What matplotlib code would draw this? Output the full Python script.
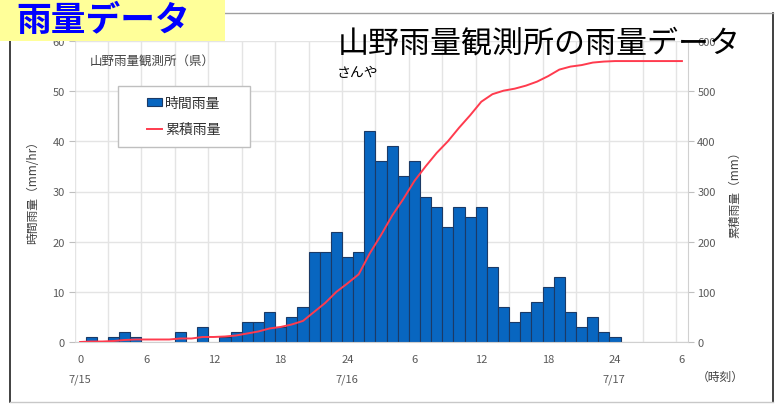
import numpy as np
import matplotlib
matplotlib.use("Agg")
import matplotlib.pyplot as plt
from matplotlib.patches import Rectangle, Patch
from matplotlib.lines import Line2D

plt.rcParams['font.family'] = ['Noto Sans CJK JP', 'DejaVu Sans']

# ---- data ----
hours = list(range(0, 55))
hourly_rain = [0, 1, 0, 1, 2, 1, 0, 0, 0, 2,
               0, 3, 0, 1, 2, 4, 4, 6, 3, 5,
               7, 18, 18, 22, 17, 18, 42, 36, 39, 33,
               36, 29, 27, 23, 27, 25, 27, 15, 7, 4,
               6, 8, 11, 13, 6, 3, 5, 2, 1, 0,
               0, 0, 0, 0, 0]
cumulative_rain = [0, 1, 1, 2, 4, 5, 5, 5, 5, 7,
                   7, 10, 10, 11, 13, 17, 21, 27, 30, 35,
                   42, 60, 78, 100, 117, 135, 177, 213, 252, 285,
                   321, 350, 377, 400, 427, 452, 479, 494, 501, 505,
                   511, 519, 530, 543, 549, 552, 557, 559, 560, 560,
                   560, 560, 560, 560, 560]
xtick_pos = [0, 6, 12, 18, 24, 30, 36, 42, 48, 54]
xtick_labels = ['0', '6', '12', '18', '24', '6', '12', '18', '24', '6']
date_pos = [0, 24, 48]
date_labels = ['7/15', '7/16', '7/17']

W, H = 776, 406
fig = plt.figure(figsize=(W / 100, H / 100), dpi=100)
fig.patch.set_facecolor('white')

def fx(px):
    return px / W

def fy(py):
    return (H - py) / H

ax_left, ax_right, ax_top, ax_bot = 74.5, 687.5, 42, 343
ax = fig.add_axes([fx(ax_left), fy(ax_bot), fx(ax_right - ax_left), (ax_bot - ax_top) / H])
ax2 = ax.twinx()

tick_col = '#595959'
grid_col = '#E4E4E4'

# bars
hx = [h for h, v in zip(hours, hourly_rain) if v > 0]
hv = [v for v in hourly_rain if v > 0]
ax.bar(hx, hv, width=1.0, color='#0866C0', edgecolor='#1B3A66', linewidth=0.8, zorder=2)
ax.set_xlim(-0.5, 54.5)
ax.set_ylim(0, 60)
ax.set_yticks(range(0, 61, 10))
ax.set_xticks(xtick_pos)
ax.set_xticklabels(xtick_labels)
ax.set_xticks(np.arange(-0.5, 55, 3), minor=True)
ax.grid(which='minor', axis='x', color=grid_col, linewidth=1.0)
ax.grid(which='major', axis='y', color=grid_col, linewidth=1.0)
ax.set_axisbelow(True)
ax.tick_params(axis='x', which='both', length=0, pad=9, labelsize=8, labelcolor=tick_col)
ax.tick_params(axis='y', length=4, color='#BFBFBF', pad=3, labelsize=8, labelcolor=tick_col)
for s in ['top', 'left', 'right']:
    ax.spines[s].set_visible(False)
ax.spines['bottom'].set_color('#D0D0D0')

# cumulative line
ax2.plot(hours, cumulative_rain, color='#FF3B4E', linewidth=1.4, zorder=3)
ax2.set_ylim(0, 600)
ax2.set_yticks(range(0, 601, 100))
ax2.tick_params(axis='y', length=4, color='#BFBFBF', pad=3, labelsize=8, labelcolor=tick_col)
for s in ['top', 'left', 'bottom']:
    ax2.spines[s].set_visible(False)
ax2.spines['right'].set_color('#D0D0D0')

# axis labels
fig.text(fx(33), fy(189), '時間雨量（mm/hr）', rotation=90, ha='center', va='center',
         fontsize=8.5, color='#404040')
fig.text(fx(735), fy(192), '累積雨量（mm）', rotation=90, ha='center', va='center',
         fontsize=8.5, color='#404040')

# date labels
for p, lab in zip(date_pos, date_labels):
    xpix = 80 + p * 11.13
    fig.text(fx(xpix), fy(380), lab, ha='center', va='center', fontsize=8, color=tick_col)
fig.text(fx(720), fy(377), '（時刻）', ha='center', va='center', fontsize=8.5, color='#404040')

# station label inside plot
fig.text(fx(152), fy(62), '山野雨量観測所（県）', ha='center', va='center', fontsize=9, color='#404040')

# legend box
fig.patches.append(Rectangle((fx(118), fy(148)), fx(132), 61 / H, transform=fig.transFigure,
                             facecolor='white', edgecolor='#BFBFBF', linewidth=1.0, zorder=3))
handles = [Patch(facecolor='#0866C0', edgecolor='#1B3A66', linewidth=0.8),
           Line2D([0], [0], color='#FF3B4E', linewidth=1.4)]
leg = fig.legend(handles, ['時間雨量', '累積雨量'], loc='center',
                 bbox_to_anchor=(fx(184), fy(117)), bbox_transform=fig.transFigure,
                 frameon=False, fontsize=10, handlelength=1.1, handleheight=0.5,
                 handletextpad=0.2, labelspacing=0.9, labelcolor='#303030')
leg.set_zorder(5)

# outer frame
fig.lines.append(Line2D([fx(10), fx(10)], [fy(14), fy(403)], transform=fig.transFigure,
                        color='#202020', linewidth=1.2, zorder=2))
fig.lines.append(Line2D([fx(773), fx(773)], [fy(14), fy(403)], transform=fig.transFigure,
                        color='#202020', linewidth=1.2, zorder=2))
fig.lines.append(Line2D([fx(10), fx(773)], [fy(14), fy(14)], transform=fig.transFigure,
                        color='#A0A0A0', linewidth=1.0, zorder=2))
fig.lines.append(Line2D([fx(10), fx(773)], [fy(403), fy(403)], transform=fig.transFigure,
                        color='#C8C8C8', linewidth=1.0, zorder=2))

# yellow title box
fig.patches.append(Rectangle((0, fy(42)), fx(225), 42 / H, transform=fig.transFigure,
                             facecolor='#FFFF99', edgecolor='none', zorder=6))
fig.text(fx(16), fy(20), '雨量データ', ha='left', va='center', fontsize=25, fontweight='bold',
         color='#0000FF', zorder=7)

# main title
fig.text(fx(338), fy(44), '山野雨量観測所の雨量データ', ha='left', va='center', fontsize=22.3,
         color='black', zorder=7)
fig.text(fx(337), fy(73), 'さんや', ha='left', va='center', fontsize=10, color='black', zorder=7)

fig.savefig('out.png', dpi=100, facecolor='white')
